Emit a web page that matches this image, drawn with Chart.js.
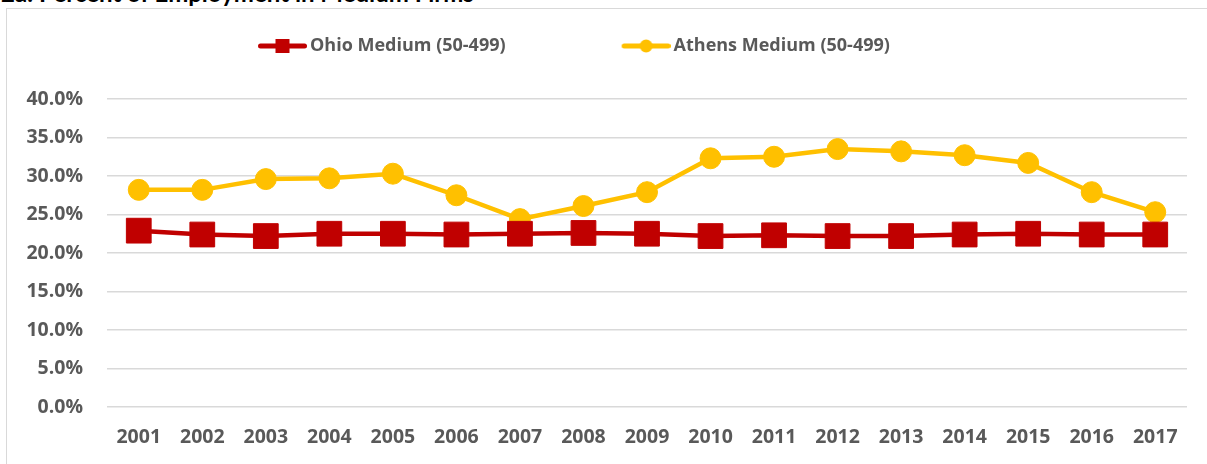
<!DOCTYPE html>
<html>
<head>
<meta charset="utf-8">
<script src="https://cdn.jsdelivr.net/npm/chart.js@4"></script>
<style>
  html, body { margin: 0; padding: 0; background: #fff; overflow: hidden; }
  body { width: 1207px; height: 464px; position: relative; }
  #title { position: absolute; left: 1px; top: -22px; font: bold 24px Lato, "Liberation Sans", sans-serif; color: #000; white-space: nowrap; }
  #frame { position: absolute; left: 6px; top: 8px; width: 1210px; height: 480px; border: 1.5px solid #D9D9D9; box-sizing: border-box; }
  #wrap { position: absolute; left: 0; top: 0; width: 1207px; height: 464px; }
</style>
</head>
<body>
<div id="title">2a: Percent of Employment in Medium Firms</div>
<div id="frame"></div>
<div id="wrap"><canvas id="c" width="1207" height="464"></canvas></div>
<script>
const years = ['2001','2002','2003','2004','2005','2006','2007','2008','2009','2010','2011','2012','2013','2014','2015','2016','2017'];
const ohioMedium = [22.9, 22.4, 22.2, 22.5, 22.5, 22.4, 22.5, 22.6, 22.5, 22.2, 22.3, 22.2, 22.2, 22.4, 22.5, 22.4, 22.4];
const athensMedium = [28.2, 28.2, 29.6, 29.7, 30.3, 27.5, 24.4, 26.1, 27.9, 32.3, 32.5, 33.5, 33.2, 32.7, 31.7, 27.9, 25.3];
const seriesNames = ['Ohio Medium (50-499)', 'Athens Medium (50-499)'];
const yTicks = [0, 5, 10, 15, 20, 25, 30, 35, 40];

const RED = '#C00000';
const GOLD = '#FFC000';
const TXT = '#595959';
const FONT = '"Open Sans"';

Chart.defaults.font.family = FONT;
Chart.defaults.font.weight = 'bold';

const BOX = 149;      // legend box width shared by both items
const ICON_PAD = 6;   // how far the icon runs past the box toward the text
const LINE_W = 49;    // visible line length of the legend icon
function legendIcon(kind, color) {
  const totalW = BOX + 2 * ICON_PAD;
  const cv = document.createElement('canvas');
  cv.width = totalW; cv.height = 18;
  const g = cv.getContext('2d');
  const x0 = totalW - LINE_W;
  g.strokeStyle = color; g.lineWidth = 5; g.lineCap = 'round';
  g.beginPath(); g.moveTo(x0 + 2.5, 9); g.lineTo(totalW - 2.5, 9); g.stroke();
  g.fillStyle = color;
  const cx = x0 + LINE_W / 2;
  if (kind === 'rect') { g.fillRect(cx - 7, 2, 14, 14); }
  else { g.beginPath(); g.arc(cx, 9, 6.5, 0, Math.PI * 2); g.fill(); }
  return cv;
}
const ohioIcon = legendIcon('rect', RED);
const athensIcon = legendIcon('circle', GOLD);

const placeLegend = {
  id: 'placeLegend',
  afterLayout(chart) {
    if (chart.legend) { chart.legend.left = 258 - (BOX - LINE_W + ICON_PAD) - 10; }
  }
};

const chart = new Chart(document.getElementById('c'), {
  type: 'line',
  data: {
    labels: years,
    datasets: [
      {
        label: seriesNames[0],
        data: ohioMedium,
        borderColor: RED,
        backgroundColor: RED,
        borderWidth: 4.5,
        pointStyle: 'rect',
        pointRadius: 17.5,
        pointHoverRadius: 17.5,
        pointBorderWidth: 1,
        pointBorderColor: RED,
        pointBackgroundColor: RED,
        tension: 0
      },
      {
        label: seriesNames[1],
        data: athensMedium,
        borderColor: GOLD,
        backgroundColor: GOLD,
        borderWidth: 4.5,
        pointStyle: 'circle',
        pointRadius: 10.5,
        pointHoverRadius: 10.5,
        pointBorderWidth: 1,
        pointBorderColor: GOLD,
        pointBackgroundColor: GOLD,
        tension: 0
      }
    ]
  },
  options: {
    responsive: false,
    animation: false,
    events: [],
    layout: { padding: { left: 0, right: 20, top: 27, bottom: 0 } },
    plugins: {
      title: { display: false },
      tooltip: { enabled: false },
      legend: {
        display: true,
        position: 'top',
        align: 'start',
        labels: {
          usePointStyle: true,
          pointStyleWidth: BOX,
          padding: 10,
          color: TXT,
          font: { family: FONT, size: 18, weight: 'bold' },
          generateLabels(chart) {
            return chart.data.datasets.map((ds, i) => ({
              text: ds.label,
              fillStyle: ds.borderColor,
              strokeStyle: ds.borderColor,
              fontColor: TXT,
              lineWidth: 0,
              hidden: false,
              datasetIndex: i,
              pointStyle: i === 0 ? ohioIcon : athensIcon
            }));
          }
        }
      }
    },
    scales: {
      x: {
        offset: true,
        grid: { display: false, drawTicks: false },
        border: { display: false },
        ticks: { color: TXT, font: { family: FONT, size: 19.5, weight: 'bold' }, padding: 19, maxRotation: 0, autoSkip: false },
        afterFit(scale) { scale.height = 57; }
      },
      y: {
        min: 0,
        max: 40,
        afterBuildTicks(scale) { scale.ticks = yTicks.map(v => ({ value: v })); },
        grid: { color: '#D9D9D9', lineWidth: 1.5, drawTicks: false },
        border: { display: false },
        ticks: {
          color: TXT,
          font: { family: FONT, size: 19.5, weight: 'bold' },
          padding: 24,
          callback: v => v.toFixed(1) + '%'
        },
        afterFit(scale) { scale.width = 107; }
      }
    }
  },
  plugins: [placeLegend]
});
const lg = chart.legend;
const origFit = lg.fit.bind(lg);
lg.fit = function () { origFit(); this.height = 72; };
chart.update();
</script>
</body>
</html>
